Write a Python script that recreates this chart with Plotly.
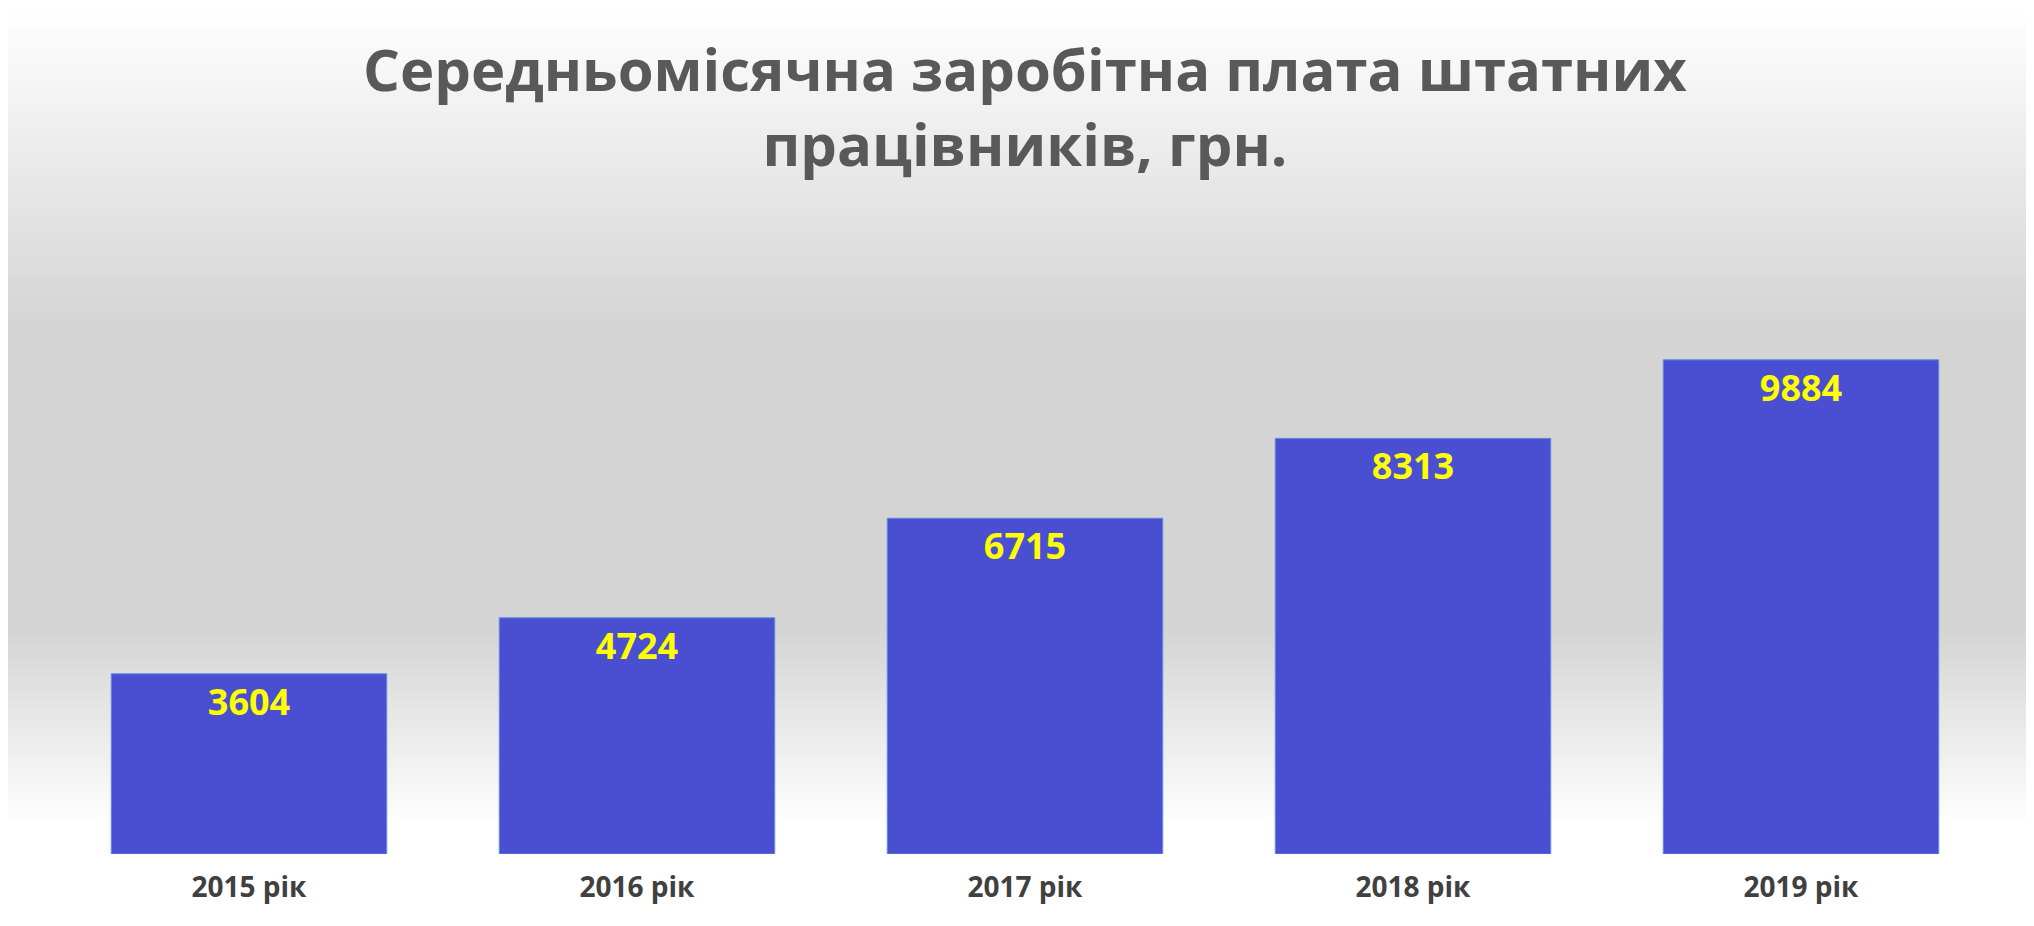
import plotly.graph_objects as go

# Data
years = ["2015 рік", "2016 рік", "2017 рік", "2018 рік", "2019 рік"]
salary = [3604, 4724, 6715, 8313, 9884]

TITLE = "Середньомісячна заробітна плата штатних<br>працівників, грн."
FIG_W, FIG_H = 2034, 926
M_L, M_R, M_T, M_B = 47, 47, 296, 80
plot_h = FIG_H - M_T - M_B

fig = go.Figure(
    go.Bar(
        x=years,
        y=salary,
        text=[str(v) for v in salary],
        textposition="inside",
        insidetextanchor="end",
        textangle=0,
        textfont=dict(color="#ffff00", size=36, family="Open Sans", weight="bold"),
        marker=dict(color="#4a4fd2", line=dict(color="#5a8fe0", width=1)),
        hoverinfo="none",
    )
)

# background gradient: white top -> grey middle -> white bottom
shapes = []
n = 230
for i in range(n):
    y0_px = FIG_H * i / n
    y1_px = FIG_H * (i + 1) / n
    mid = (y0_px + y1_px) / 2
    if mid < 320:
        t = mid / 320
    elif mid < 620:
        t = 1
    else:
        t = max(0, 1 - (mid - 620) / 200)
    c = int(round(255 - (255 - 212) * t))
    p0 = (FIG_H - M_B - y1_px) / plot_h
    p1 = (FIG_H - M_B - y0_px) / plot_h
    shapes.append(dict(
        type="rect", xref="paper", yref="paper",
        x0=-0.1, x1=1.1, y0=p0 - 0.002, y1=p1 + 0.002,
        fillcolor=f"rgb({c},{c},{c})", line=dict(width=0), layer="below",
    ))

fig.update_layout(
    width=FIG_W,
    height=FIG_H,
    shapes=shapes,
    paper_bgcolor="white",
    plot_bgcolor="rgba(0,0,0,0)",
    showlegend=False,
    bargap=0.29,
    margin=dict(l=M_L, r=M_R, t=M_T, b=M_B, pad=0),
)

# Title as an annotation so it sits where the reference has it
fig.add_annotation(
    text=TITLE,
    xref="paper", yref="paper",
    x=0.5, xanchor="center",
    y=(FIG_H - M_B - 98) / plot_h, yanchor="middle",
    showarrow=False,
    font=dict(family="Open Sans", size=58, color="#595959", weight="bold"),
)

fig.update_xaxes(
    showgrid=False, showline=False, ticks="",
    ticklabelstandoff=14,
    tickfont=dict(family="Open Sans", size=28, color="#404040", weight="bold"),
)
fig.update_yaxes(range=[0, 11000], visible=False)

fig.write_html("out.html")
